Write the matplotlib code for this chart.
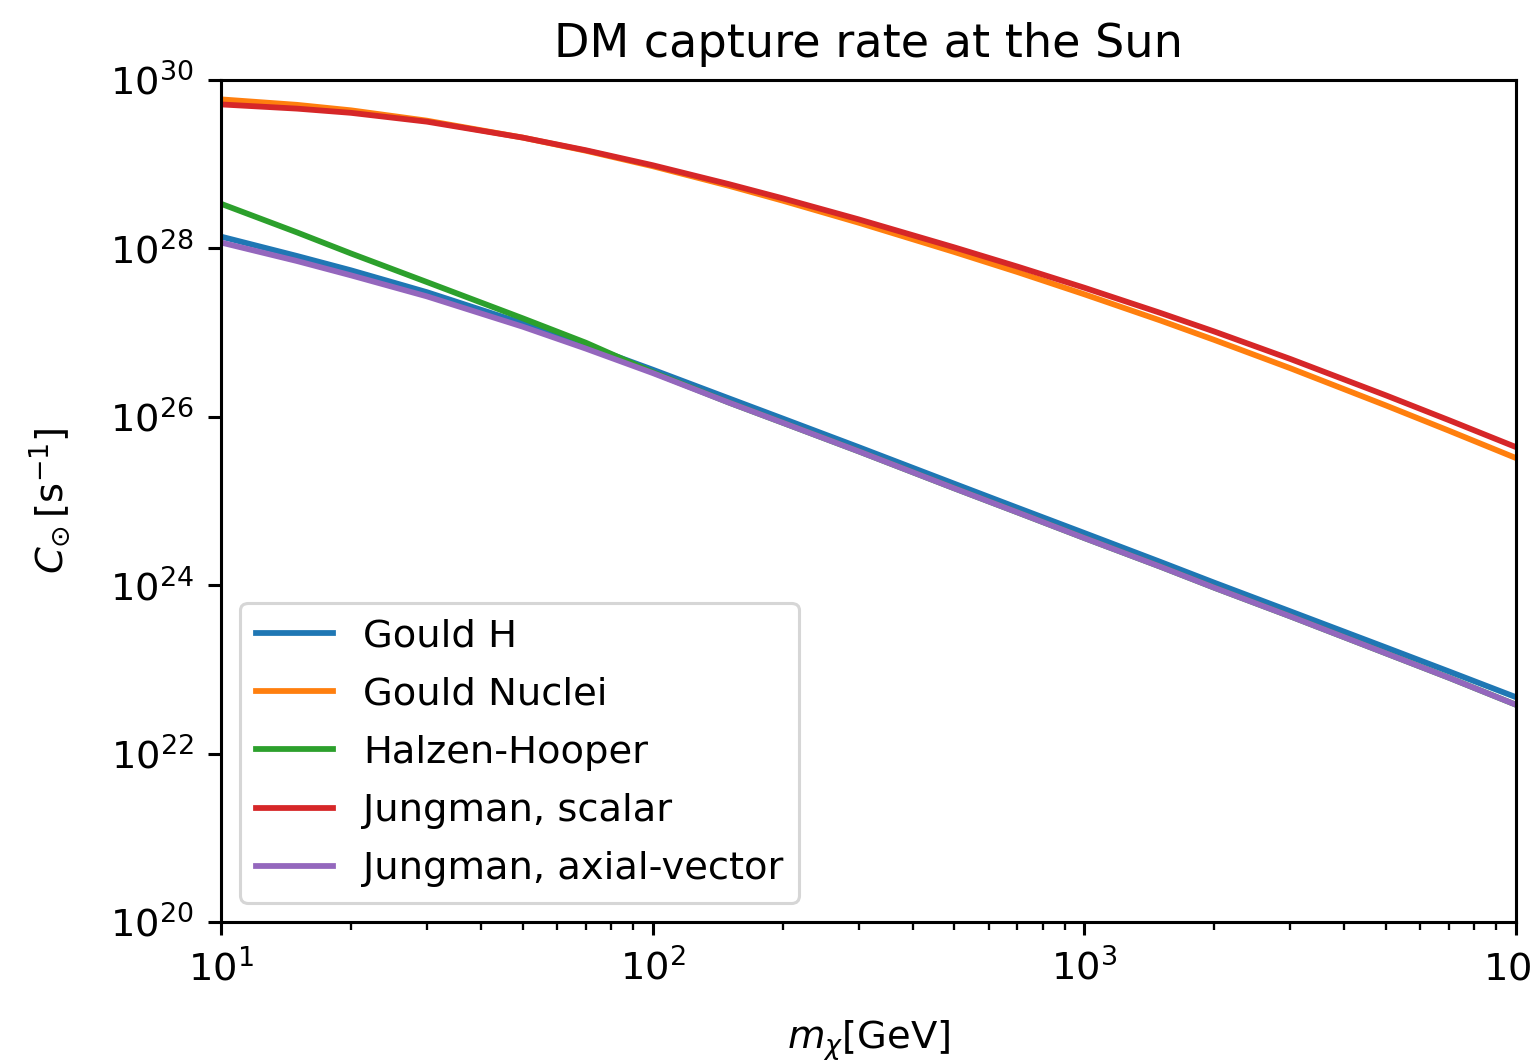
import numpy as np
import matplotlib
matplotlib.use("Agg")
import matplotlib.pyplot as plt
from matplotlib.ticker import NullLocator

# DM mass [GeV]
masses = [10, 15, 20, 30, 50, 70, 100, 150, 200, 300, 500, 700,
          1000, 1500, 2000, 3000, 5000, 7000, 10000]

# log10 of capture rate [1/s]
log_gould_h = [28.14, 27.91, 27.74, 27.48, 27.11, 26.85, 26.56, 26.22, 25.98, 25.64,
               25.205, 24.92, 24.62, 24.277, 24.03, 23.69, 23.26, 22.975, 22.67]
log_gould_nuclei = [29.77, 29.705, 29.64, 29.517, 29.316, 29.16, 28.976, 28.744, 28.567, 28.305,
                    27.957, 27.719, 27.455, 27.144, 26.913, 26.577, 26.134, 25.834, 25.51]
log_halzen_hooper = [28.53, 28.19, 27.94, 27.60, 27.17, 26.88, 26.53, 26.17, 25.93, 25.59,
                     25.15, 24.865, 24.56, 24.22, 23.97, 23.63, 23.19, 22.90, 22.58]
log_jungman_scalar = [29.71, 29.66, 29.61, 29.505, 29.316, 29.166, 28.988, 28.764, 28.595, 28.345,
                      28.012, 27.784, 27.533, 27.234, 27.013, 26.687, 26.254, 25.959, 25.64]
log_jungman_axial = [28.07, 27.85, 27.68, 27.43, 27.07, 26.81, 26.52, 26.17, 25.93, 25.59,
                     25.15, 24.865, 24.56, 24.22, 23.97, 23.63, 23.19, 22.90, 22.58]

labels = ["Gould H", "Gould Nuclei", "Halzen-Hooper", "Jungman, scalar", "Jungman, axial-vector"]
series = [log_gould_h, log_gould_nuclei, log_halzen_hooper, log_jungman_scalar, log_jungman_axial]

s = 2.77  # scale of the original small figure
fig = plt.figure(figsize=(15.32, 10.62), dpi=100)
ax = fig.add_axes([221 / 1532, 1 - 922 / 1062, (1516 - 221) / 1532, (922 - 80) / 1062])

for vals, lab in zip(series, labels):
    ax.plot(masses, 10.0 ** np.array(vals), label=lab, lw=1.5 * s)

ax.set_xscale("log")
ax.set_yscale("log")
ax.set_xlim(10, 1e4)
ax.set_ylim(1e20, 1e30)
ax.set_yticks([10.0 ** k for k in range(20, 31, 2)])
ax.yaxis.set_minor_locator(NullLocator())

for sp in ax.spines.values():
    sp.set_linewidth(0.8 * s)
ax.tick_params(which="major", length=3.5 * s, width=0.8 * s, pad=3.5 * s, labelsize=10 * s)
ax.tick_params(which="minor", length=2 * s, width=0.6 * s)

ax.set_title("DM capture rate at the Sun", fontsize=12 * s, pad=6 * s)
ax.set_xlabel(r"$m_\chi$[GeV]", fontsize=10 * s, labelpad=21)
ax.set_ylabel(r"$C_{\odot}\,$[s$^{-1}$]", fontsize=10 * s, labelpad=27)

leg = ax.legend(loc="lower left", fontsize=10 * s, labelspacing=0.58)
leg.get_frame().set_linewidth(0.8 * s)

fig.savefig("out.png", dpi=100)
